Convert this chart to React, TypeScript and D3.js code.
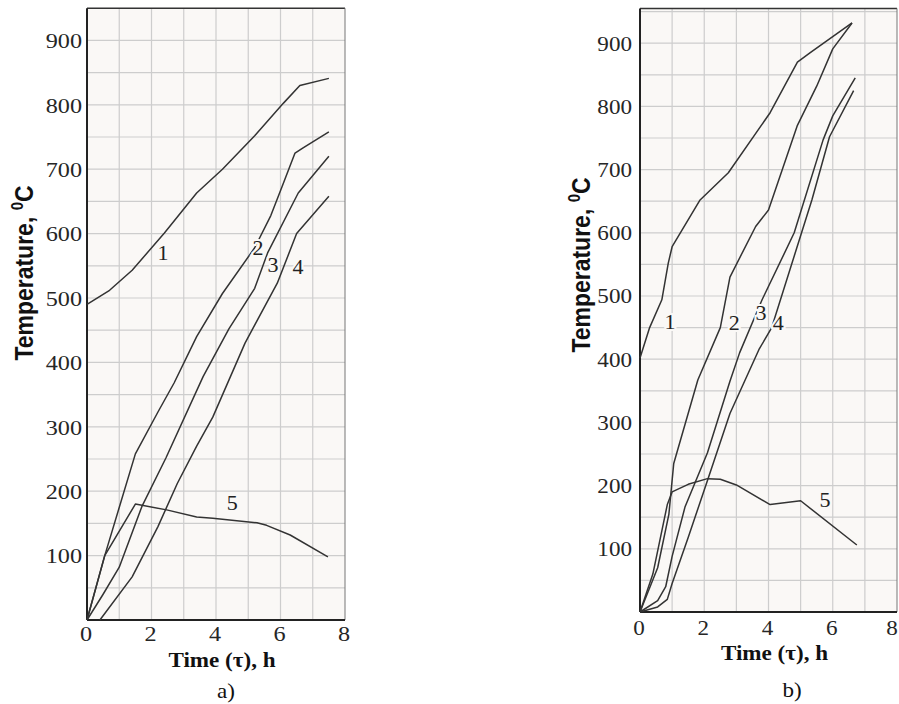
import React from "react";
import * as d3 from "d3";

// ---------- data (time in h, temperature in °C) ----------
const xTicks = [0, 2, 4, 6, 8];
const yTicks = [100, 200, 300, 400, 500, 600, 700, 800, 900];
const curveNames = ["1", "2", "3", "4", "5"];

// Panel a)
const a1: [number, number][] = [[0, 490], [0.7, 512], [1.4, 543], [2.4, 601], [3.4, 663], [4.2, 700], [5.2, 752], [6.1, 803], [6.6, 830], [7.5, 841]];
const a2: [number, number][] = [[0, 0], [0.55, 100], [1.5, 258], [2.2, 323], [2.7, 368], [3.4, 440], [4.2, 507], [5.2, 578], [5.7, 628], [6.05, 673], [6.45, 725], [6.7, 733], [7.5, 758]];
const a3: [number, number][] = [[0, 0], [0.5, 40], [1.0, 82], [1.7, 176], [2.45, 252], [3.6, 378], [4.4, 452], [5.2, 515], [5.6, 570], [6.55, 663], [7.5, 720]];
const a4: [number, number][] = [[0.4, 0], [1.4, 67], [2.2, 145], [2.8, 212], [3.4, 270], [3.9, 315], [4.9, 430], [5.9, 523], [6.5, 600], [7.5, 658]];
const a5: [number, number][] = [[0, 0], [0.55, 100], [1.5, 180], [2.47, 171], [3.4, 160], [3.9, 158], [5.27, 151], [5.57, 147], [6.3, 132], [7.47, 98]];
const aLabelPos: [number, number][] = [[2.36, 570], [5.3, 578], [5.77, 551], [6.54, 548], [4.5, 182]];

// Panel b)
const b1: [number, number][] = [[0, 402], [0.3, 450], [0.68, 494], [0.88, 552], [1.0, 578], [1.87, 652], [2.75, 695], [4.05, 790], [4.9, 870], [5.3, 885], [6.6, 932]];
const b2: [number, number][] = [[0, 0], [0.55, 70], [0.9, 155], [1.05, 235], [1.8, 367], [2.5, 450], [2.8, 530], [3.6, 610], [4.0, 636], [4.9, 770], [5.5, 832], [6.0, 891], [6.6, 932]];
const b3: [number, number][] = [[0, 0], [0.55, 18], [0.8, 40], [1.0, 88], [1.4, 166], [2.1, 252], [2.8, 365], [3.1, 410], [3.8, 494], [4.8, 600], [5.7, 747], [6.0, 785], [6.7, 845]];
const b4: [number, number][] = [[0, 0], [0.55, 8], [0.85, 20], [1.0, 45], [1.5, 118], [2.1, 208], [2.8, 314], [3.7, 415], [4.1, 450], [5.35, 652], [5.9, 752], [6.65, 825]];
const b5: [number, number][] = [[0, 0], [0.4, 60], [0.85, 170], [1.0, 190], [1.5, 202], [2.1, 211], [2.5, 210], [3.0, 201], [4.05, 170], [5.0, 176], [6.75, 106]];
const bLabelPos: [number, number][] = [[0.93, 459], [2.93, 457], [3.77, 473], [4.3, 457], [5.76, 177]];

const SERIF = "'Liberation Serif', 'Times New Roman', serif";
const SANS = "'Liberation Sans', Arial, sans-serif";
const LINE = "#333";
const GRID = "#cdcdcd";

type PanelProps = {
  x0: number; x1: number; y0: number; y1: number; yMax: number;
  series: [number, number][][]; labelPos: [number, number][];
  tickSize: number; yTickRight: number; xTickY: number; lastTickShift: number;
  yLabelX: number; yLabelY: number; xLabelY: number;
  tagX: number; tagY: number; tag: string;
};

function Panel(p: PanelProps) {
  const x = d3.scaleLinear().domain([0, 8]).range([p.x0, p.x1]);
  const y = d3.scaleLinear().domain([0, p.yMax]).range([p.y0, p.y1]);
  const line = d3.line<[number, number]>().x(d => x(d[0])).y(d => y(d[1])).curve(d3.curveLinear);
  const hGrid = d3.range(50, p.yMax, 50);
  const vGrid = d3.range(1, 8, 1);
  const sx = 1.1;
  return (
    <g>
      <rect x={x(0)} y={y(p.yMax)} width={x(8) - x(0)} height={y(0) - y(p.yMax)} fill="#faf8f6" />
      {hGrid.map(v => (
        <line key={"h" + v} x1={x(0)} x2={x(8)} y1={y(v)} y2={y(v)} stroke={GRID} strokeWidth={1.2} />
      ))}
      {vGrid.map(v => (
        <line key={"v" + v} x1={x(v)} x2={x(v)} y1={y(0)} y2={y(p.yMax)} stroke={GRID} strokeWidth={1.2} />
      ))}
      {/* frame */}
      <line x1={x(0)} x2={x(8)} y1={y(p.yMax)} y2={y(p.yMax)} stroke="#333" strokeWidth={1.6} />
      <line x1={x(8)} x2={x(8)} y1={y(0)} y2={y(p.yMax)} stroke="#777" strokeWidth={1} />
      <line x1={x(0)} x2={x(0)} y1={y(0)} y2={y(p.yMax)} stroke="#222" strokeWidth={2} />
      <line x1={x(0)} x2={x(8)} y1={y(0)} y2={y(0)} stroke="#222" strokeWidth={2} />
      {/* curves */}
      {p.series.map((s, i) => (
        <path key={"s" + i} d={line(s) || ""} fill="none" stroke={LINE} strokeWidth={1.5} strokeLinejoin="round" />
      ))}
      {/* curve labels */}
      {p.labelPos.map((pos, i) => (
        <text key={"l" + i} transform={`translate(${x(pos[0])},${y(pos[1])}) scale(${sx},1)`}
          textAnchor="middle" dy="0.35em" fontFamily={SERIF} fontSize={20} fill="#222"
          stroke="#faf8f6" strokeWidth={4} paintOrder="stroke">{curveNames[i]}</text>
      ))}
      {/* y ticks */}
      {yTicks.map(v => (
        <text key={"yt" + v} transform={`translate(${p.yTickRight},${y(v)}) scale(${sx},1)`}
          textAnchor="end" dy="0.35em" fontFamily={SERIF} fontSize={p.tickSize} fill="#262626">{v}</text>
      ))}
      {/* x ticks */}
      {xTicks.map((v, i) => (
        <text key={"xt" + v}
          transform={`translate(${x(v) - 1 + (i === xTicks.length - 1 ? p.lastTickShift : 0)},${p.xTickY}) scale(${sx},1)`}
          textAnchor="middle" dy="0.35em" fontFamily={SERIF} fontSize={p.tickSize} fill="#262626">{v}</text>
      ))}
      {/* axis titles */}
      <text transform={`translate(${p.yLabelX},${p.yLabelY}) scale(1.15,1) rotate(-90)`}
        textAnchor="middle" dy="0.35em" fontFamily={SANS} fontWeight="bold" fontSize={23} fill="#111">
        Temperature, <tspan fontSize={15} dy="-9">0</tspan><tspan dy="9">C</tspan>
      </text>
      <text transform={`translate(${(x(0) + x(8)) / 2 + 6},${p.xLabelY}) scale(${sx},1)`}
        textAnchor="middle" fontFamily={SERIF} fontWeight="bold" fontSize={21} fill="#111">Time (τ), h</text>
      <text transform={`translate(${p.tagX},${p.tagY}) scale(${sx},1)`}
        textAnchor="middle" fontFamily={SERIF} fontSize={21} fill="#111">{p.tag}</text>
    </g>
  );
}

export default function App() {
  return (
    <svg width={899} height={704} style={{ position: "absolute", left: 0, top: 0, background: "#fff" }}>
      <rect width={899} height={704} fill="#fff" />
      <Panel x0={87} x1={345} y0={620} y1={620 - 0.644 * 950} yMax={950}
        series={[a1, a2, a3, a4, a5]} labelPos={aLabelPos}
        tickSize={22} yTickRight={82} xTickY={633} lastTickShift={0}
        yLabelX={24} yLabelY={273} xLabelY={667} tagX={226} tagY={698} tag="a)" />
      <Panel x0={640} x1={897} y0={612} y1={612 - 0.632 * 955} yMax={955}
        series={[b1, b2, b3, b4, b5]} labelPos={bLabelPos}
        tickSize={21} yTickRight={632} xTickY={628} lastTickShift={-4}
        yLabelX={581} yLabelY={265} xLabelY={660} tagX={792} tagY={697} tag="b)" />
    </svg>
  );
}
